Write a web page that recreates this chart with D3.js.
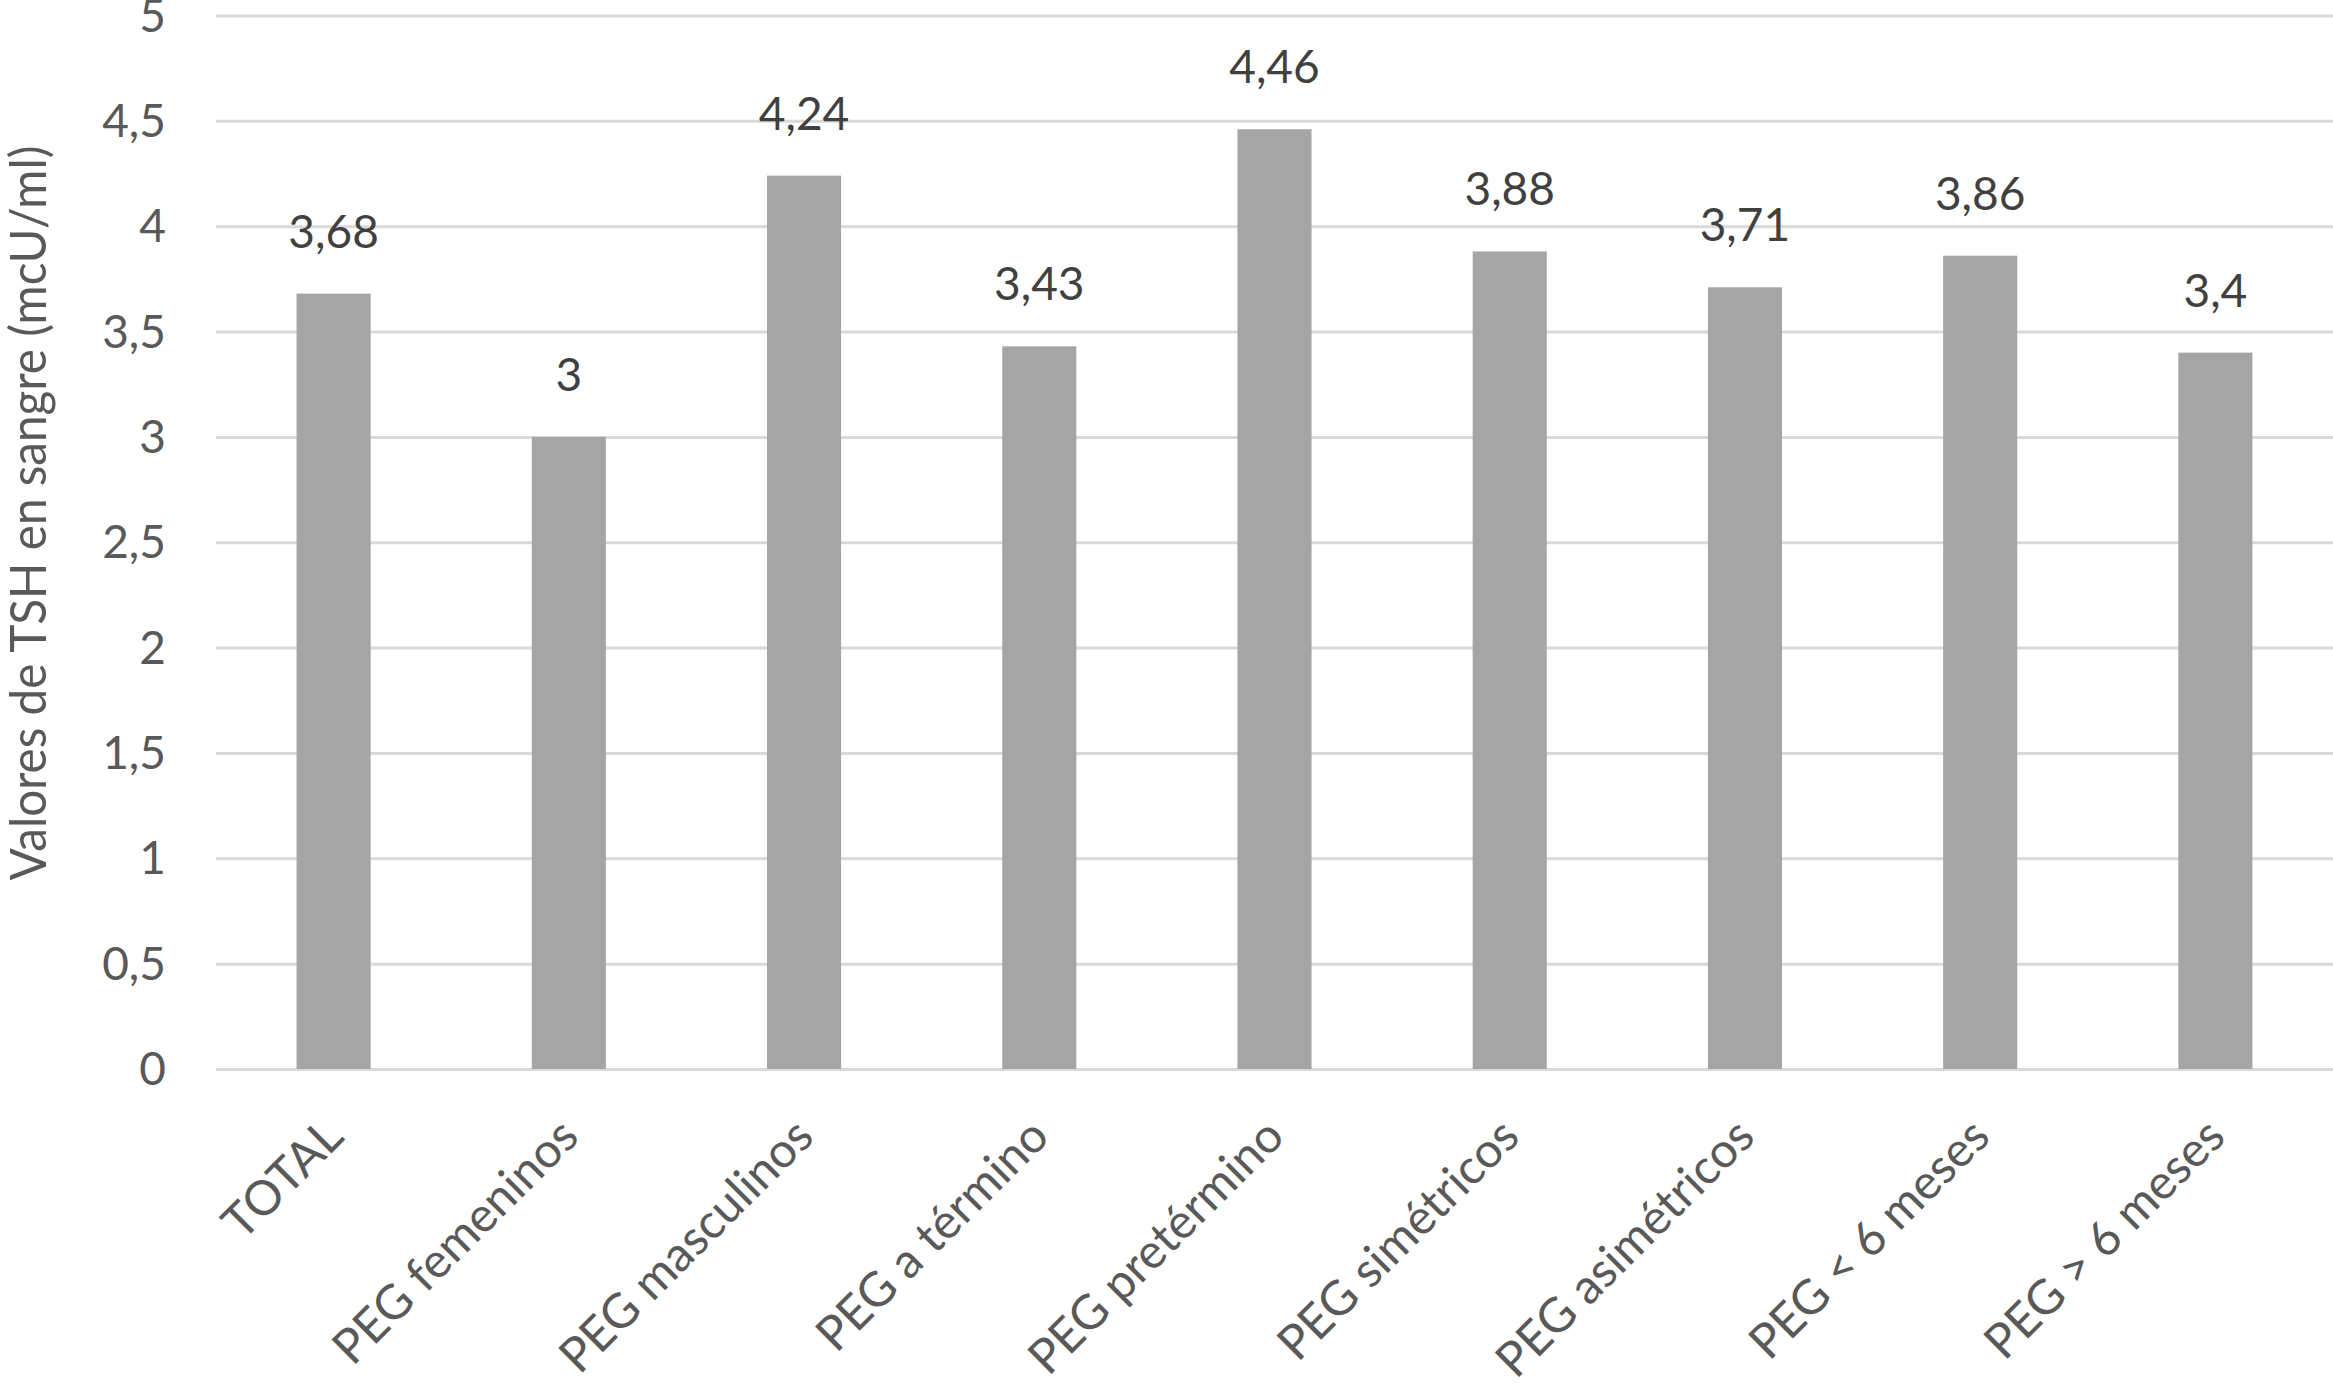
<!DOCTYPE html>
<html>
<head>
<meta charset="utf-8">
<script src="https://cdn.jsdelivr.net/npm/d3@7"></script>
<style>
  html, body { margin: 0; padding: 0; background: #fff; }
  svg { display: block; }
  text { font-family: Lato, "Open Sans", sans-serif; }
</style>
</head>
<body>
<svg id="chart" width="2333" height="1385"></svg>
<script>
const categories = ["TOTAL", "PEG femeninos", "PEG masculinos", "PEG a término", "PEG pretérmino",
                    "PEG simétricos", "PEG asimétricos", "PEG < 6 meses", "PEG > 6 meses"];
const values = [3.68, 3, 4.24, 3.43, 4.46, 3.88, 3.71, 3.86, 3.4];
const yTicks = [0, 0.5, 1, 1.5, 2, 2.5, 3, 3.5, 4, 4.5, 5];
const yTitle = "Valores de TSH en sangre (mcU/ml)";

(function () {
const plotLeft = 216, plotRight = 2333, plotTop = 15.5, plotBottom = 1069;

const svg = d3.select("#chart");
const locale = d3.formatLocale({decimal: ",", thousands: ".", grouping: [3], currency: ["", "€"]});
const fmt = v => locale.format("~g")(v);

const x = d3.scaleBand().domain(categories).range([plotLeft, plotRight])
  .paddingInner(0.685).paddingOuter(0.3425);
const y = d3.scaleLinear().domain([0, 5]).range([plotBottom, plotTop]);

// gridlines + y labels
const yAxis = d3.axisLeft(y).tickValues(yTicks).tickFormat(fmt)
  .tickSize(-(plotRight - plotLeft)).tickPadding(50);
const gy = svg.append("g").attr("transform", `translate(${plotLeft},0)`).call(yAxis);
gy.select(".domain").remove();
gy.selectAll(".tick line").attr("stroke", "#d9d9d9").attr("stroke-width", 3);
gy.selectAll(".tick text").attr("fill", "#595959").attr("font-size", 46)
  .attr("font-family", "Lato, 'Open Sans', sans-serif")
  .attr("dy", "0.34em");

// bars
svg.append("g").selectAll("rect").data(values).join("rect")
  .attr("x", (d, i) => x(categories[i]))
  .attr("width", x.bandwidth())
  .attr("y", d => y(d))
  .attr("height", d => y(0) - y(d))
  .attr("fill", "#a5a5a5");

// value labels
svg.append("g").selectAll("text").data(values).join("text")
  .attr("x", (d, i) => x(categories[i]) + x.bandwidth() / 2)
  .attr("y", d => y(d) - 46)
  .attr("text-anchor", "middle")
  .attr("fill", "#404040")
  .attr("font-size", 46)
  .text(d => fmt(d));

// x labels
const xAxis = d3.axisBottom(x).tickSize(0).tickPadding(0);
const gx = svg.append("g").attr("transform", `translate(0,${plotBottom})`).call(xAxis);
gx.select(".domain").remove();
gx.selectAll(".tick text")
  .attr("font-size", 48)
  .attr("font-family", "Lato, 'Open Sans', sans-serif")
  .attr("fill", "#595959")
  .attr("text-anchor", "end")
  .attr("dy", null)
  .attr("y", null)
  .attr("transform", "translate(12,70) rotate(-45)");

// y title
svg.append("text")
  .attr("transform", `translate(46,513) rotate(-90)`)
  .attr("text-anchor", "middle")
  .attr("fill", "#595959")
  .attr("font-size", 51)
  .attr("textLength", 735)
  .attr("lengthAdjust", "spacingAndGlyphs")
  .text(yTitle);
})();
</script>
</body>
</html>
